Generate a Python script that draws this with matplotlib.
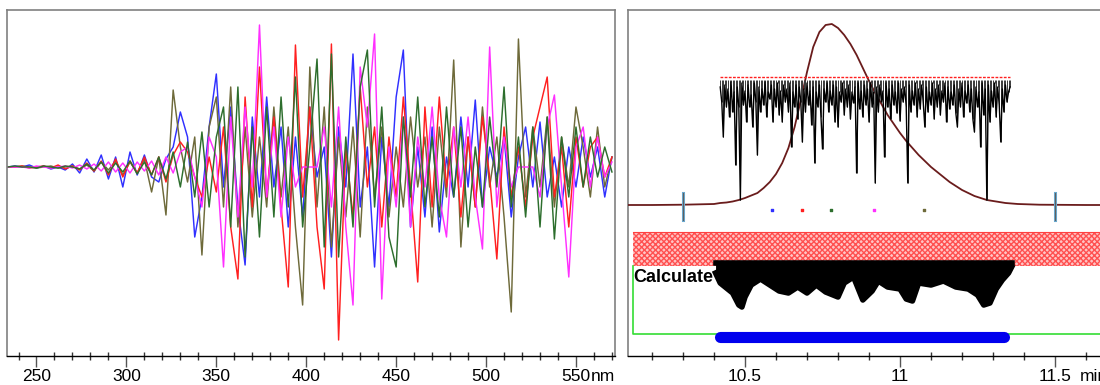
import numpy as np
import matplotlib
matplotlib.use("Agg")
import matplotlib.pyplot as plt

plt.rcParams['font.family'] = ['Liberation Sans', 'DejaVu Sans']

# ---- left panel: difference spectra (baseline = 0, arbitrary units) ----
wl = np.arange(234, 572, 4)

blue = [0, 1, 0, 2, -1, 1, -2, 0, -3, 3,
        -6, 8, -5, 12, -12, 10, -20, 15, -8, 12,
        -10, -15, 8, 20, 55, 30, -70, -30, 40, 93,
        -20, 60, -40, -98, 50, -30, 70, -20, 40, -60,
        30, -50, 60, -10, 20, -90, 40, -20, 113, -40,
        20, -100, 30, -40, 70, 117, -60, 20, -50, 40,
        -65, 10, -30, 50, -20, 67, -40, 20, -10, 30,
        -50, 10, 40, -20, 45, -30, 10, -40, 20, -20,
        30, -10, 20, -30, 10]
red = [0, 0, 1, -1, 0, 1, -1, 2, -2, 1,
       -3, 4, -4, 6, -8, 8, -10, 6, -6, 10,
       -8, 10, -15, 12, 25, 15, -10, -30, 10, -25,
       40, -60, -112, 70, -40, 100, -30, 50, -40, -120,
       122, -30, 60, -60, -122, 123, -173, 20, -50, 80,
       -20, 40, -60, 30, -30, 70, -20, -115, 60, -40,
       70, -20, 40, -50, 30, -40, 50, -10, -92, 40,
       -30, 20, -40, 30, 60, 90, -30, 20, -60, 30,
       -20, 20, 30, -10, 10]
magenta = [0, 0, 0, -1, 1, 0, -1, 0, 1, -1,
           2, -2, 3, -4, 5, -5, 4, -6, 5, -4,
           6, -8, 10, -6, 15, 20, -10, -40, 30, 10,
           -100, 50, -50, 60, -20, 142, -30, 40, -50, 30,
           -20, 0, 0, 0, 40, -40, 60, -60, -138, 100,
           40, 133, -132, 20, -40, 50, -60, 30, -20, 60,
           -30, -70, 40, -20, 50, -30, -82, 120, -40, 30,
           -20, 0, 0, 0, -30, 40, 72, -20, -110, 20,
           40, -20, 30, -10, 5]
green = [0, 1, 0, 0, -1, 1, 0, -1, 1, 0,
         -2, 3, -3, 5, -6, 4, -5, 6, -7, 5,
         -8, 10, -12, 15, -20, 25, -30, 35, -40, 30,
         60, -60, 80, -90, 40, -70, 60, -50, 70, -40,
         90, -60, 20, 108, -80, 113, -90, 30, -60, 80,
         117, -40, 60, -70, -100, 50, -30, 70, -40, 30,
         -50, 60, -30, 40, -60, 20, -40, 50, -20, 80,
         -40, 30, -50, 40, -60, 50, -72, 30, -30, 40,
         -20, 30, -10, 20, -5]
olive = [0, 0, 1, 0, -1, 0, 1, -1, 0, 1,
         -2, 2, -4, 5, -3, 6, -8, 5, -6, 8,
         -25, 10, -48, 77, 20, -15, 30, -88, 40, 70,
         -40, 80, -60, 40, -50, 30, -40, 60, -30, 40,
         -60, -138, 100, -40, 60, -80, 30, -50, 40, -70,
         60, -30, 40, -50, 20, -40, 50, -20, 30, -60,
         40, -30, 107, -80, 30, -40, 60, -20, 30, -50,
         -145, 128, -30, 40, -20, 50, -40, 30, -20, 60,
         20, -30, 40, -20, 10]

spec_series = [(blue, '#3030ff'), (olive, '#6e6a3a'), (red, '#ff2020'),
               (magenta, '#ff30ff'), (green, '#2d6e2d')]

# ---- right panel: chromatogram (heights in arbitrary units) ----
peak_t = [10.123, 10.20, 10.30, 10.40, 10.42, 10.44, 10.46, 10.48, 10.50, 10.52,
          10.54, 10.56, 10.58, 10.60, 10.62, 10.64, 10.66, 10.68, 10.70, 10.72,
          10.74, 10.76, 10.78, 10.80, 10.82, 10.84, 10.86, 10.88, 10.90, 10.92,
          10.94, 10.96, 10.98, 11.00, 11.02, 11.04, 11.06, 11.08, 11.10, 11.12,
          11.14, 11.16, 11.18, 11.20, 11.22, 11.24, 11.26, 11.28, 11.30, 11.32,
          11.34, 11.38, 11.45, 11.60, 11.774]
peak_h = [0, 0, 0.3, 1, 2, 2.5, 3.5, 5, 7, 9.5,
          12, 17, 23, 31, 42, 57, 78, 105, 133, 158,
          173, 180, 181, 177, 170, 161, 150, 137, 124, 112,
          101, 90, 81, 72, 64, 57, 50, 44, 38, 33,
          28, 23, 19, 15, 12, 9, 7, 5, 4, 3,
          2, 1, 0.3, 0, 0]
baseline_level = 150

# purity trace: depth below threshold line, every 0.005 min from 10.42
purity_t0 = 10.42
purity_depth = [10, 25, 60, 8, 30, 12, 40, 5, 35, 15, 88, 10, 30, 123, 6, 28, 14, 45, 8, 30,
                18, 50, 6, 25, 78, 10, 35, 12, 28, 5, 40, 15, 22, 8, 45, 12, 30, 6, 38, 14,
                45, 8, 25, 12, 35, 6, 70, 15, 30, 8, 42, 10, 25, 65, 12, 35, 6, 28, 14, 48,
                10, 86, 15, 30, 8, 40, 72, 12, 25, 6, 35, 14, 28, 8, 45, 10, 50, 15, 25, 6,
                38, 12, 30, 8, 42, 15, 26, 10, 96, 6, 32, 14, 40, 8, 28, 12, 45, 6, 30, 15,
                106, 10, 35, 8, 25, 14, 80, 6, 30, 12, 42, 8, 28, 15, 36, 6, 44, 12, 25, 10,
                30, 106, 8, 35, 14, 28, 6, 40, 12, 32, 8, 26, 50, 10, 35, 15, 28, 6, 42, 12,
                30, 8, 38, 14, 25, 6, 45, 10, 32, 15, 28, 8, 36, 50, 12, 30, 6, 40, 14, 26,
                8, 35, 12, 42, 55, 10, 30, 15, 70, 6, 38, 12, 123, 8, 45, 14, 30, 6, 40, 10,
                28, 65, 12, 35, 8, 25, 15, 10]
threshold_level = 278
threshold_range = (10.42, 11.355)

# spectrum positions (coloured dots)
dot_t = [10.587, 10.684, 10.777, 10.916, 11.077]
dot_colors = ['#3030ff', '#ff2020', '#2d6e2d', '#ff30ff', '#6e6a3a']
dot_level = 145

# integration marks
mark_t = [10.3, 11.5]

# "Calculate" band profile
calc_t = [10.405, 10.42, 10.44, 10.46, 10.48, 10.49, 10.50, 10.52, 10.55, 10.58,
          10.61, 10.64, 10.67, 10.70, 10.73, 10.76, 10.80, 10.82, 10.85, 10.88,
          10.91, 10.93, 10.96, 11.00, 11.02, 11.04, 11.06, 11.10, 11.14, 11.18,
          11.22, 11.25, 11.27, 11.29, 11.31, 11.33, 11.35, 11.36]
calc_low = [82, 72, 67, 62, 50, 48, 58, 70, 76, 70,
            64, 62, 68, 62, 70, 63, 58, 72, 78, 55,
            64, 74, 68, 66, 56, 54, 72, 70, 74, 68,
            66, 60, 50, 52, 66, 75, 82, 88]
calc_top = 93

band_range = (89, 123)
green_level = 21
bar_range = (10.42, 11.335)
bar_level = 18

fig = plt.figure(figsize=(11, 3.85), dpi=100)

# ---------- left panel ----------
ax1 = fig.add_axes([7 / 1100, 29 / 385, 608 / 1100, 346 / 385])
for vals, col in spec_series:
    ax1.plot(wl, vals, color=col, lw=1.05)
ax1.set_xlim(233.6, 571.7)
ax1.set_ylim(-189, 157)
ax1.set_yticks([])
ax1.set_xticks([250, 300, 350, 400, 450, 500, 550])
ax1.set_xticks(np.arange(240, 571, 10), minor=True)

# ---------- right panel ----------
ax2 = fig.add_axes([628 / 1100, 29 / 385, 512 / 1100, 346 / 385])
ax2.set_xlim(10.1226, 11.774)
ax2.set_ylim(-1, 345)
ax2.set_yticks([])
ax2.set_xticks([10.5, 11, 11.5])
ax2.set_xticklabels(['10.5', '11', '11.5'])
ax2.set_xticks(np.arange(10.2, 11.75, 0.1), minor=True)

# red band
ax2.fill_between([10.139, 11.774], band_range[0], band_range[1],
                 facecolor='#ffc4c4', edgecolor='#ff5050', hatch='xxxxxx', lw=0, zorder=1)
ax2.plot([10.139, 11.774], [band_range[1], band_range[1]], color='#ff4040', lw=0.8, zorder=2)

# green bracket + blue bar
ax2.plot([10.139, 10.139, 11.774], [band_range[0], green_level, green_level],
         color='#33dd33', lw=1.2, zorder=2)
ax2.plot(bar_range, [bar_level, bar_level], color='#0000ee', lw=8,
         solid_capstyle='round', zorder=3)

# "Calculate" label and black band
ax2.text(10.139, 78, 'Calculate', fontsize=13, fontweight='bold', va='center',
         ha='left', zorder=4)
ax2.fill_between(calc_t, calc_low, calc_top, color='black', lw=0, zorder=5)
ax2.plot(calc_t, calc_low, color='black', lw=4, zorder=5)
ax2.plot([calc_t[0], calc_t[-1]], [calc_top - 1, calc_top - 1], color='black', lw=4, zorder=5)

# peak curve
peak_y = [baseline_level + h for h in peak_h]
ax2.plot(peak_t, peak_y, color='#6a1c1c', lw=1.3, zorder=6)

# purity trace + threshold
pt = purity_t0 + 0.005 * np.arange(len(purity_depth))
purity_y = threshold_level - np.array(purity_depth)
ax2.vlines(pt, purity_y, threshold_level - 3, color='#3a3a3a', lw=0.7, zorder=6)
ax2.plot(pt, purity_y, color='black', lw=1.0, zorder=6)
ax2.plot(threshold_range, [threshold_level, threshold_level], color='#ff2020',
         lw=1.0, ls=(0, (2, 1)), zorder=7)

# markers and spectrum dots
for t in mark_t:
    ax2.plot([t, t], [baseline_level - 15, baseline_level + 12], color='#6aaad0', lw=2.2, zorder=6)
    ax2.plot([t, t], [baseline_level - 15, baseline_level + 12], color='#606060', lw=0.8, zorder=7)
ax2.scatter(dot_t, [dot_level] * len(dot_t), c=dot_colors, s=4, marker='s', zorder=7)

# ---------- common styling ----------
for ax in (ax1, ax2):
    for side in ('top', 'left', 'right'):
        ax.spines[side].set_color('#808080')
        ax.spines[side].set_linewidth(1.2)
    ax.spines['bottom'].set_color('black')
    ax.spines['bottom'].set_linewidth(1.0)
    ax.tick_params(axis='x', which='major', direction='out', length=8, width=1,
                   pad=1.5, labelsize=12.5, colors='#555555', labelcolor='black')
    ax.tick_params(axis='x', which='minor', direction='inout', length=6, width=1,
                   colors='#333333')

ax1.annotate('nm', xy=(558.2, 0), xycoords=('data', 'axes fraction'),
             xytext=(0, -9.5), textcoords='offset points', ha='left', va='top', fontsize=12.5)
ax2.annotate('min', xy=(11.58, 0), xycoords=('data', 'axes fraction'),
             xytext=(0, -9.5), textcoords='offset points', ha='left', va='top', fontsize=12.5)

fig.savefig('out.png', dpi=100)
